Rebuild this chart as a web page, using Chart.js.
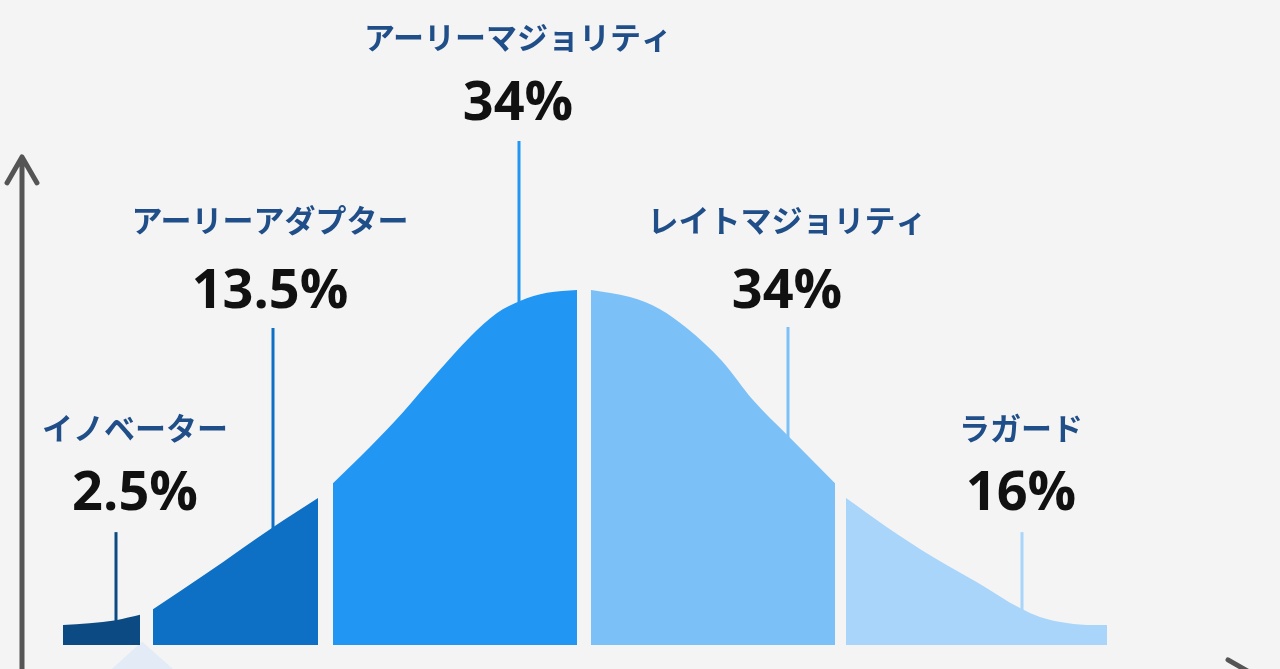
<!DOCTYPE html>
<html lang="ja">
<head>
<meta charset="utf-8">
<title>イノベーター理論</title>
<script src="https://cdn.jsdelivr.net/npm/chart.js@4.4.1/dist/chart.umd.min.js"></script>
<style>
  html, body { margin: 0; padding: 0; background: #f4f4f4; }
  #wrap { width: 1280px; height: 669px; position: relative; }
</style>
</head>
<body>
<div id="wrap"><canvas id="curve"></canvas></div>
<script>
// ---------- Data (x: horizontal position, h: curve height in % of peak) ----------
const segNames = ["イノベーター", "アーリーアダプター", "アーリーマジョリティ", "レイトマジョリティ", "ラガード"];
const segShares = [2.5, 13.5, 34, 34, 16];

const innovX = [6.3, 11.6, 14.0];
const innovH = [5.6, 7.0, 8.5];

const earlyAdoptX = [15.3, 20.7, 27.3, 31.8];
const earlyAdoptH = [10.1, 20.3, 33.2, 41.4];

const earlyMajX = [33.3, 37.0, 40.3, 43.7, 47.0, 49.7, 52.0, 54.7, 57.7];
const earlyMajH = [45.6, 55.8, 65.6, 76.6, 86.8, 93.5, 96.9, 99.2, 100.0];

const lateMajX = [59.1, 63.0, 66.0, 68.7, 72.2, 75.3, 78.7, 83.5];
const lateMajH = [100.0, 98.0, 94.6, 89.2, 80.0, 69.0, 59.2, 45.6];

const laggardX = [84.6, 88.7, 93.3, 97.7, 102.0, 104.0, 106.7, 109.3, 110.7];
const laggardH = [41.4, 33.2, 24.8, 17.7, 10.4, 7.9, 6.2, 5.6, 5.6];

// ---------- Styles / label layout ----------
const segColors = ["#0b4a82", "#0e70c5", "#2196f3", "#7cc0f8", "#a9d5fa"];
const labelX = [13.5, 27.0, 51.8, 78.7, 102.1];
const nameH = [61.1, 119.7, 171.3, 119.7, 61.1];
const pctBaseH = [38.0, 94.9, 147.9, 94.9, 38.0];
const leaderX = [11.6, 27.3, 51.9, 78.8, 102.2];
const leaderTopH = [31.8, 89.3, 142.0, 89.6, 31.8];

function toPoints(xs, hs) {
    return xs.map((x, i) => ({ x: x, y: hs[i] }));
}

const segments = [
    toPoints(innovX, innovH),
    toPoints(earlyAdoptX, earlyAdoptH),
    toPoints(earlyMajX, earlyMajH),
    toPoints(lateMajX, lateMajH),
    toPoints(laggardX, laggardH)
];

// ---------- Axes arrows, leader lines and labels ----------
const decorPlugin = {
    id: "decor",
    beforeDatasetsDraw(chart) {
        const ctx = chart.ctx;
        const xs = chart.scales.x, ys = chart.scales.y;
        ctx.save();

        // faint triangle under the first gap
        ctx.fillStyle = "#e3ecf6";
        ctx.beginPath();
        ctx.moveTo(xs.getPixelForValue(10.5), ys.getPixelForValue(-8.5));
        ctx.lineTo(xs.getPixelForValue(14.2), ys.getPixelForValue(1.0));
        ctx.lineTo(xs.getPixelForValue(18.0), ys.getPixelForValue(-8.5));
        ctx.closePath();
        ctx.fill();

        // leader lines (run down under the filled areas)
        ctx.lineWidth = 3;
        leaderX.forEach((lx, i) => {
            const px = xs.getPixelForValue(lx);
            ctx.strokeStyle = segColors[i];
            ctx.beginPath();
            ctx.moveTo(px, ys.getPixelForValue(leaderTopH[i]));
            ctx.lineTo(px, ys.getPixelForValue(0));
            ctx.stroke();
        });

        // axes arrows
        ctx.strokeStyle = "#555555";
        ctx.lineWidth = 5;
        ctx.lineCap = "round";
        ctx.lineJoin = "round";
        const ax = xs.getPixelForValue(2.2);
        const topY = ys.getPixelForValue(137.5);
        const botY = ys.getPixelForValue(-8.7);
        ctx.beginPath();
        ctx.moveTo(ax, botY + 10);
        ctx.lineTo(ax, topY);
        ctx.moveTo(ax - 15, topY + 26);
        ctx.lineTo(ax, topY);
        ctx.lineTo(ax + 15, topY + 26);
        ctx.stroke();

        const tipX = xs.getPixelForValue(125.6);
        ctx.beginPath();
        ctx.moveTo(ax, botY);
        ctx.lineTo(tipX, botY);
        ctx.moveTo(tipX - 28, botY - 16);
        ctx.lineTo(tipX, botY);
        ctx.lineTo(tipX - 28, botY + 16);
        ctx.stroke();
        ctx.restore();
    },
    afterDatasetsDraw(chart) {
        const ctx = chart.ctx;
        const xs = chart.scales.x, ys = chart.scales.y;
        ctx.save();
        ctx.textAlign = "center";
        segNames.forEach((name, i) => {
            const px = xs.getPixelForValue(labelX[i]);
            ctx.fillStyle = "#1f4e88";
            ctx.font = "bold 31px 'Noto Sans CJK JP'";
            ctx.textBaseline = "middle";
            ctx.fillText(name, px, ys.getPixelForValue(nameH[i]));

            ctx.fillStyle = "#111111";
            ctx.font = "bold 54px 'Open Sans'";
            ctx.textBaseline = "alphabetic";
            ctx.fillText(segShares[i] + "%", px, ys.getPixelForValue(pctBaseH[i]));
        });
        ctx.restore();
    }
};

// ---------- Chart ----------
new Chart(document.getElementById("curve"), {
    type: "line",
    data: {
        datasets: segments.map((pts, i) => ({
            label: segNames[i],
            data: pts,
            backgroundColor: segColors[i],
            borderColor: segColors[i],
            borderWidth: 0,
            pointRadius: 0,
            fill: "origin",
            cubicInterpolationMode: "monotone"
        }))
    },
    options: {
        responsive: true,
        maintainAspectRatio: false,
        animation: false,
        layout: { padding: 0 },
        plugins: { legend: { display: false }, tooltip: { enabled: false } },
        scales: {
            x: { type: "linear", min: 0, max: 128, display: false },
            y: { type: "linear", min: -6.76, max: 181.7, display: false }
        }
    },
    plugins: [decorPlugin]
});
</script>
</body>
</html>
